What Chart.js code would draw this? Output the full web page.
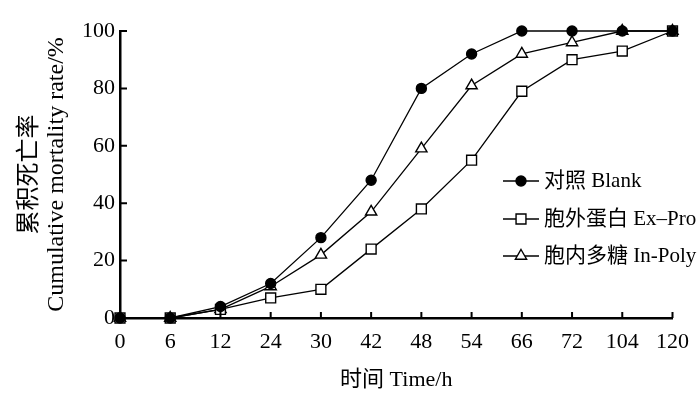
<!DOCTYPE html>
<html>
<head>
<meta charset="utf-8">
<script src="https://cdn.jsdelivr.net/npm/chart.js@4/dist/chart.umd.min.js"></script>
<style>
  html, body { margin: 0; padding: 0; background: #fff; }
  #wrap { width: 700px; height: 397px; }
</style>
</head>
<body>
<div id="wrap"><canvas id="chart"></canvas></div>
<script>
// -------------------- DATA --------------------
const categories = ['0', '6', '12', '24', '30', '42', '48', '54', '66', '72', '104', '120'];
const blank  = [0, 0, 4, 12, 28, 48, 80, 92, 100, 100, 100, 100];
const exPro  = [0, 0, 3, 7, 10, 24, 38, 55, 79, 90, 93, 100];
const inPoly = [0, 0, 3, 11, 22, 37, 59, 81, 92, 96, 100, 100];
const yTicks = [0, 20, 40, 60, 80, 100];
const seriesNames = ['对照 Blank', '胞外蛋白 Ex–Pro', '胞内多糖 In-Poly'];

const FONT = "'Liberation Serif', 'Noto Sans CJK SC', serif";

// -------------------- PLUGINS --------------------
// inward tick marks on both axes
const innerTicks = {
  id: 'innerTicks',
  afterDraw(chart) {
    const ctx = chart.ctx;
    const x = chart.scales.x, y = chart.scales.y;
    ctx.save();
    ctx.strokeStyle = '#000';
    ctx.lineWidth = 2;
    ctx.beginPath();
    x.ticks.forEach((t, i) => {
      const px = x.getPixelForTick(i);
      ctx.moveTo(px, y.bottom);
      ctx.lineTo(px, y.bottom - 6);
    });
    y.ticks.forEach((t, i) => {
      const py = y.getPixelForTick(i);
      ctx.moveTo(x.left, py);
      ctx.lineTo(x.left + 7, py);
    });
    ctx.stroke();
    ctx.restore();
  }
};

// legend with line + marker, drawn at the right
const lineLegend = {
  id: 'lineLegend',
  afterDraw(chart) {
    const ctx = chart.ctx;
    const x0 = 503, rowY = [181, 219, 256];
    ctx.save();
    chart.data.datasets.forEach((ds, i) => {
      const yy = rowY[i];
      ctx.strokeStyle = '#000';
      ctx.lineWidth = 1.4;
      ctx.beginPath();
      ctx.moveTo(x0, yy);
      ctx.lineTo(x0 + 36, yy);
      ctx.stroke();
      ctx.fillStyle = ds.pointBackgroundColor;
      ctx.strokeStyle = '#000';
      ctx.lineWidth = 1.4;
      Chart.helpers.drawPoint(ctx, {
        pointStyle: ds.pointStyle, radius: ds.pointRadius, rotation: 0, borderWidth: 1.4
      }, x0 + 18, yy);
      ctx.fillStyle = '#000';
      ctx.font = '21px ' + FONT;
      ctx.textBaseline = 'middle';
      ctx.textAlign = 'left';
      ctx.fillText(ds.label, x0 + 41, yy);
    });
    ctx.restore();
  }
};

// -------------------- CHART --------------------
function series(label, data, style, bg, r) {
  return {
    label: label,
    data: data,
    borderColor: '#000',
    borderWidth: 1.3,
    pointStyle: style,
    pointRadius: r,
    pointBackgroundColor: bg,
    pointBorderColor: '#000',
    pointBorderWidth: 1.4,
    tension: 0,
    clip: false
  };
}

new Chart(document.getElementById('chart'), {
  type: 'line',
  data: {
    labels: categories,
    datasets: [
      series(seriesNames[0], blank, 'circle', '#000', 5),
      series(seriesNames[1], exPro, 'rect', '#fff', 7),
      series(seriesNames[2], inPoly, 'triangle', '#fff', 6.5)
    ]
  },
  options: {
    responsive: true,
    maintainAspectRatio: false,
    animation: false,
    layout: { padding: { top: 31, right: 27, left: 0, bottom: 0 } },
    plugins: {
      legend: { display: false },
      tooltip: { enabled: false }
    },
    scales: {
      x: {
        type: 'category',
        offset: false,
        grid: { display: false, drawTicks: false },
        border: { display: true, color: '#000', width: 2.5 },
        ticks: { color: '#000', font: { family: FONT, size: 22 }, padding: 11, maxRotation: 0, autoSkip: false },
        title: {
          display: true,
          text: '时间 Time/h',
          color: '#000',
          font: { family: FONT, size: 22 },
          padding: { top: 0, bottom: 4 }
        },
        afterFit(s) { s.height = 79; }
      },
      y: {
        min: 0,
        max: 100,
        afterBuildTicks(s) { s.ticks = yTicks.map(v => ({ value: v })); },
        grid: { display: false, drawTicks: false },
        border: { display: true, color: '#000', width: 2.5 },
        ticks: { color: '#000', font: { family: FONT, size: 22 }, padding: 5 },
        title: {
          display: true,
          text: ['累积死亡率', 'Cumulative mortality rate/%'],
          color: '#000',
          font: { family: FONT, size: 24, lineHeight: 1.125 },
          padding: { top: 16, bottom: 0 }
        },
        afterFit(s) { s.width = 120; }
      }
    }
  },
  plugins: [innerTicks, lineLegend]
});
</script>
</body>
</html>
